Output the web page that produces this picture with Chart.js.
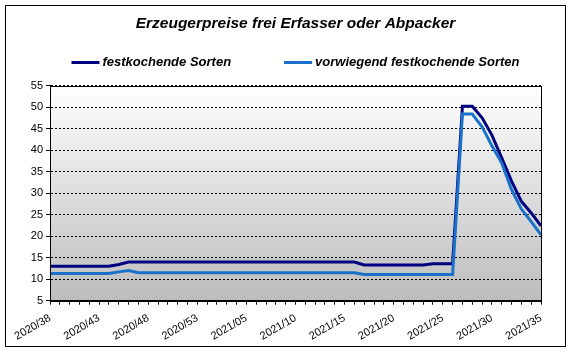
<!DOCTYPE html>
<html>
<head>
<meta charset="utf-8">
<script src="https://cdn.jsdelivr.net/npm/chart.js@4"></script>
<style>
  body { margin: 0; background: #fff; }
  canvas { display: block; }
</style>
</head>
<body>
<canvas id="chart" width="570" height="352"></canvas>
<script>
const weeks = [
  '2020/38', '2020/39', '2020/40', '2020/41', '2020/42', '2020/43', '2020/44', '2020/45',
  '2020/46', '2020/47', '2020/48', '2020/49', '2020/50', '2020/51', '2020/52', '2020/53',
  '2021/01', '2021/02', '2021/03', '2021/04', '2021/05', '2021/06', '2021/07', '2021/08',
  '2021/09', '2021/10', '2021/11', '2021/12', '2021/13', '2021/14', '2021/15', '2021/16',
  '2021/17', '2021/18', '2021/19', '2021/20', '2021/21', '2021/22', '2021/23', '2021/24',
  '2021/25', '2021/26', '2021/27', '2021/28', '2021/29', '2021/30', '2021/31', '2021/32',
  '2021/33', '2021/34', '2021/35'
];

const festkochend = [
  13, 13, 13, 13, 13, 13, 13, 13.4,
  14, 14, 14, 14, 14, 14, 14, 14, 14, 14, 14, 14, 14, 14, 14, 14,
  14, 14, 14, 14, 14, 14, 14, 14,
  13.3, 13.3, 13.3, 13.3, 13.3, 13.3, 13.3,
  13.6, 13.6, 13.6,
  50.2, 50.2, 47.5, 43.5, 38.2, 32.8, 28.1, 25.4, 22.4
];

const vorwiegend = [
  11.3, 11.3, 11.3, 11.3, 11.3, 11.3, 11.3, 11.7, 12.0,
  11.5, 11.5, 11.5, 11.5, 11.5, 11.5, 11.5, 11.5, 11.5, 11.5, 11.5, 11.5,
  11.5, 11.5, 11.5, 11.5, 11.5, 11.5, 11.5, 11.5, 11.5, 11.5, 11.5,
  11.1, 11.1, 11.1, 11.1, 11.1, 11.1, 11.1, 11.1, 11.1, 11.1,
  48.4, 48.4, 45.4, 41.0, 37.0, 30.8, 26.3, 23.4, 20.3
];

const seriesNames = ['festkochende Sorten', 'vorwiegend festkochende Sorten'];
const titleText = 'Erzeugerpreise frei Erfasser oder Abpacker';
const yTicks = [5, 55, 5]; // min, max, step

const font = 'Arial, "Liberation Sans", sans-serif';

// gray gradient behind the plot, frame round it and round the whole chart
const frame = {
  id: 'frame',
  beforeDraw(chart) {
    const { ctx, chartArea: a } = chart;
    const g = ctx.createLinearGradient(0, a.top, 0, a.bottom);
    g.addColorStop(0, '#ffffff');
    g.addColorStop(1, '#bdbdbd');
    ctx.save();
    ctx.fillStyle = g;
    ctx.fillRect(a.left, a.top, a.right - a.left, a.bottom - a.top);
    ctx.restore();
  },
  afterDraw(chart) {
    const { ctx, chartArea: a } = chart;
    ctx.save();
    ctx.strokeStyle = '#000';
    ctx.lineWidth = 1;
    ctx.strokeRect(Math.round(a.left) + 0.5, Math.round(a.top) + 0.5,
      Math.round(a.right - a.left), Math.round(a.bottom - a.top));
    ctx.strokeRect(5.5, 5.5, 560, 341);
    ctx.restore();
  }
};

// legend with short line samples, one row, wide gap between the entries
const lineLegend = {
  id: 'lineLegend',
  afterDraw(chart) {
    const { ctx, chartArea: a } = chart;
    const sets = chart.data.datasets;
    ctx.save();
    ctx.font = 'italic bold 13px ' + font;
    const widths = sets.map(d => 28 + 3 + ctx.measureText(d.label).width);
    const gap = 53;
    let x = (a.left + a.right) / 2 - (widths[0] + widths[1] + gap) / 2;
    sets.forEach((d, i) => {
      ctx.fillStyle = d.borderColor;
      ctx.fillRect(x, 61, 28, 3);
      ctx.fillStyle = '#000';
      ctx.textBaseline = 'middle';
      ctx.fillText(d.label, x + 31, 62.5);
      x += widths[i] + gap;
    });
    ctx.restore();
  }
};

const ctx = document.getElementById('chart').getContext('2d');
new Chart(ctx, {
  type: 'line',
  data: {
    labels: weeks,
    datasets: [{
      label: seriesNames[0],
      data: festkochend,
      borderColor: '#000080',
      backgroundColor: '#000080',
      borderWidth: 3,
      pointRadius: 0,
      order: 1
    }, {
      label: seriesNames[1],
      data: vorwiegend,
      borderColor: '#1a72c8',
      backgroundColor: '#1a72c8',
      borderWidth: 3,
      pointRadius: 0,
      order: 0
    }]
  },
  options: {
    responsive: false,
    animation: false,
    layout: { padding: { left: 20, right: 29, top: 8, bottom: 2 } },
    plugins: {
      title: {
        display: true,
        fullSize: false,
        text: titleText,
        color: '#000',
        font: { family: font, size: 15.5, weight: 'bold', style: 'italic' },
        padding: { top: 6, bottom: 53 }
      },
      legend: { display: false },
      tooltip: { enabled: false }
    },
    scales: {
      x: {
        grid: { drawOnChartArea: false, tickLength: 4, color: '#000' },
        border: { color: '#000' },
        ticks: {
          autoSkip: false,
          maxRotation: 30,
          minRotation: 30,
          padding: 7,
          color: '#000',
          font: { family: font, size: 11 },
          callback: function (v, i) { return i % 5 === 0 ? weeks[i] : ''; }
        }
      },
      y: {
        min: yTicks[0],
        max: yTicks[1],
        afterFit(scale) { scale.width = 30; },
        grid: { color: '#000', tickLength: 4, tickBorderDash: [] },
        border: { color: '#000', dash: [2, 2] },
        ticks: {
          stepSize: yTicks[2],
          padding: 3,
          color: '#000',
          font: { family: font, size: 11 }
        }
      }
    }
  },
  plugins: [frame, lineLegend]
});
</script>
</body>
</html>
